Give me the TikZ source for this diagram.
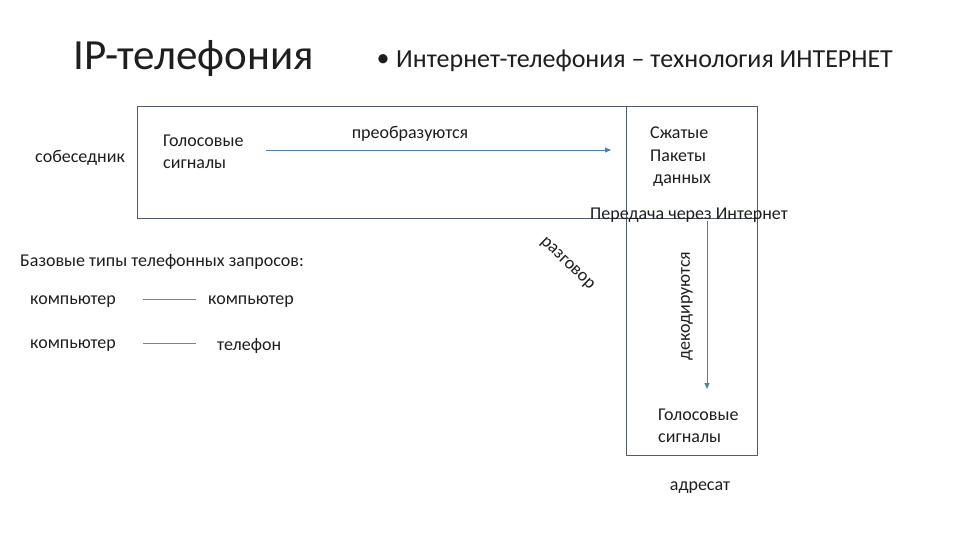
\documentclass[tikz,border=0pt]{standalone}
\usepackage{fontspec}
\setmainfont{Carlito}
\usetikzlibrary{arrows.meta}
\definecolor{boxline}{RGB}{80,92,108}
\definecolor{arrowcol}{RGB}{74,126,187}
\definecolor{linkcol}{RGB}{75,150,168}
\definecolor{ink}{RGB}{30,30,30}
\begin{document}
\begin{tikzpicture}[x=1pt,y=-1pt,
  txt/.style={font=\fontsize{18}{22.5}\selectfont, inner sep=0pt, text=ink},
  ml/.style={txt, align=left},
  frame/.style={draw=boxline, line width=0.9pt},
  flow/.style={draw=arrowcol, line width=0.9pt, -{Triangle[length=6pt,width=5pt]}},
  link/.style={draw=linkcol, line width=0.9pt}]
\useasboundingbox (0,0) rectangle (960,540);
% frames
\draw[frame] (137,106) rectangle (757,218);
\draw[frame] (626,218) -- (626,455) -- (757,455) -- (757,218);
\draw[frame] (626,106) -- (626,218);
% titles
\node[inner sep=0pt, anchor=west, text=ink, font=\fontsize{43}{47}\selectfont] (title) at (73,59) {IP-телефония};
\node[inner sep=0pt, text=ink, font=\fontsize{26}{30}\selectfont] (bullet) at (383,61) {•};
\node[inner sep=0pt, anchor=west, text=ink, font=\fontsize{26}{30}\selectfont] (subtitle) at (396,61) {Интернет-телефония – технология ИНТЕРНЕТ};
% upper box contents
\node[txt, anchor=west] (sob) at (35,158) {собеседник};
\node[ml, anchor=west] (voice1) at (163,152) {Голосовые\\сигналы};
\node[txt] (conv) at (410,134) {преобразуются};
\node[ml, anchor=west] (packets) at (650,157) {Сжатые\\Пакеты\\\hspace{3pt}данных};
\node[txt, anchor=west] (trans) at (590,215) {Передача через Интернет};
\coordinate (a1) at (266,150);
\coordinate (a2) at (611,150);
\draw[flow] (a1) -- (a2);
% vertical
\coordinate (d1) at (707,221);
\coordinate (d2) at (707,389);
\draw[flow] (d1) -- (d2);
\node[txt, rotate=90] (dec) at (687,306) {декодируются};
\node[txt, rotate=-44] (talk) at (567,264) {разговор};
\node[ml, anchor=west] (voice2) at (658,426) {Голосовые\\сигналы};
\node[txt] (addr) at (700,488) {адресат};
% left list
\node[txt, anchor=west] (base) at (20,262) {Базовые типы телефонных запросов:};
\node[txt, anchor=west] (c1) at (30,302) {компьютер};
\node[txt, anchor=west] (c2) at (208,302) {компьютер};
\node[txt, anchor=west] (c3) at (30,346) {компьютер};
\node[txt, anchor=west] (t1) at (217,346) {телефон};
\coordinate (l1) at (143,299);
\coordinate (l2) at (196,299);
\coordinate (l3) at (143,343);
\coordinate (l4) at (196,343);
\draw[link] (l1) -- (l2);
\draw[link] (l3) -- (l4);
\end{tikzpicture}
\end{document}
